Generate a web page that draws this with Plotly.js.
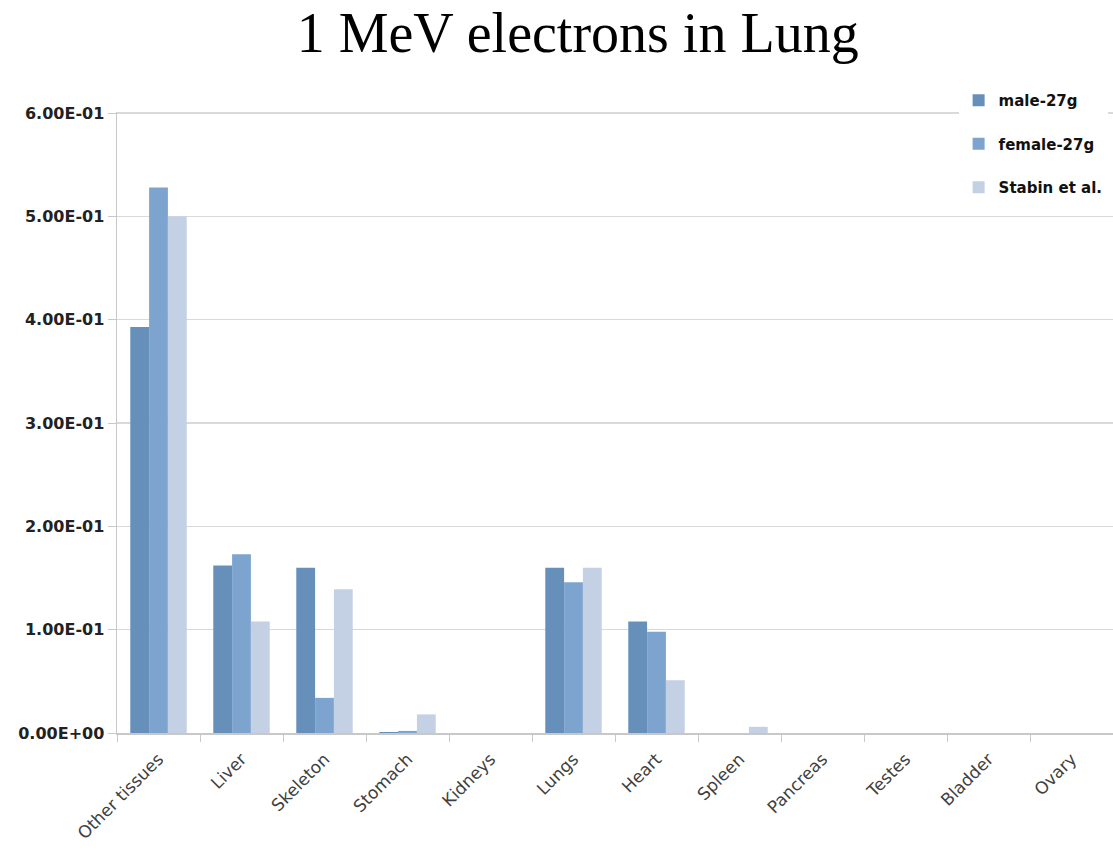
<!DOCTYPE html>
<html>
<head>
<meta charset="utf-8">
<script src="https://cdn.plot.ly/plotly-3.0.1.min.js"></script>
<style>html,body{margin:0;padding:0;background:#fff;}#chart{width:1113px;height:859px;}</style>
</head>
<body>
<div id="chart"></div>
<script>
const categories = ["Other tissues","Liver","Skeleton","Stomach","Kidneys","Lungs","Heart","Spleen","Pancreas","Testes","Bladder","Ovary"];
const male27g   = [0.393, 0.162, 0.160, 0.001, 0, 0.160, 0.108, 0, 0, 0, 0, 0];
const female27g = [0.528, 0.173, 0.034, 0.002, 0, 0.146, 0.098, 0, 0, 0, 0, 0];
const stabin    = [0.500, 0.108, 0.139, 0.018, 0, 0.160, 0.051, 0.006, 0, 0, 0, 0];
const yTickVals = [0, 0.1, 0.2, 0.3, 0.4, 0.5, 0.6];
const yTickText = ["0.00E+00","1.00E-01","2.00E-01","3.00E-01","4.00E-01","5.00E-01","6.00E-01"];

const series = [
  {name: "male-27g", y: male27g, color: "#668FBA"},
  {name: "female-27g", y: female27g, color: "#7DA4CF"},
  {name: "Stabin et al.", y: stabin, color: "#C4D0E4"}
];
const traces = series.map((s, i) => ({
  type: "bar", name: s.name, x: categories, y: s.y,
  marker: {color: s.color, line: {width: 0}},
  legendgroup: "g" + i
}));

const layout = {
  width: 1113, height: 859,
  margin: {l: 117, r: 0, t: 112, b: 126},
  paper_bgcolor: "#fff", plot_bgcolor: "#fff",
  title: {text: "1 MeV electrons in Lung", font: {family: "Liberation Serif, Times New Roman, serif", size: 56, color: "#000"},
          x: 0.519, xanchor: "center", y: 0.962, yref: "container", yanchor: "middle"},
  barmode: "group", bargap: 0.32, bargroupgap: 0,
  showlegend: true,
  legend: {x: 0.845, xanchor: "left", y: 1.045, yanchor: "top", bgcolor: "#fff",
           font: {family: "DejaVu Sans, sans-serif", size: 15, color: "#111", weight: "bold"},
           traceorder: "grouped", tracegroupgap: 21},
  xaxis: {type: "category", showgrid: false, showline: true, linecolor: "#c8c8c8", linewidth: 1.5,
          ticks: "outside", tickson: "boundaries", ticklen: 7, tickcolor: "#c8c8c8",
          tickangle: -45, ticklabelstandoff: 8,
          tickfont: {family: "DejaVu Sans, sans-serif", size: 17, color: "#404040"}},
  yaxis: {range: [0, 0.601], tickvals: yTickVals, ticktext: yTickText, showgrid: true, gridcolor: "#d9d9d9", gridwidth: 1.2,
          showline: true, linecolor: "#c8c8c8", linewidth: 1.5, ticks: "outside", ticklen: 8, tickcolor: "#c8c8c8",
          zeroline: false, tickfont: {family: "DejaVu Sans, sans-serif", size: 16, color: "#222", weight: "bold"}}
};
Plotly.newPlot("chart", traces, layout, {displayModeBar: false, staticPlot: true});
</script>
</body>
</html>
